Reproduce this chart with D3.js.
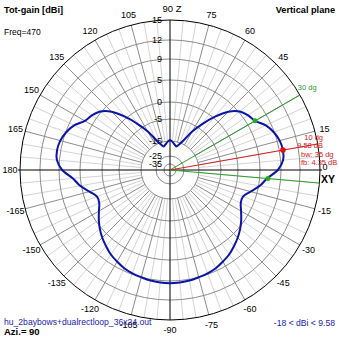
<!DOCTYPE html>
<html><head><meta charset="utf-8">
<script src="https://cdn.jsdelivr.net/npm/d3@7"></script>
<style>
body{margin:0;background:#fff}
svg{display:block}
text{font-family:"Liberation Sans",Arial,sans-serif}
</style>
</head><body>
<svg id="chart" width="339" height="339"></svg>
<script>
// Radial gain rings (dBi) and their labels
const ringLevels = [15, 12, 9, 5, 0, -5, -15, -25, -35];
// Elevation angle labels, every 15 degrees
const angleTicks = [0, 15, 30, 45, 60, 75, 90, 105, 120, 135, 150, 165, 180,
  -165, -150, -135, -120, -105, -90, -75, -60, -45, -30, -15];
// Elevation angles (deg, counter-clockwise from the horizon) and total gain (dBi)
const elevation = [0,5,10,15,20,25,30,35,40,45,50,55,60,65,70,75,80,85,
  90,95,100,105,110,115,120,125,130,135,140,145,150,155,160,165,170,175,
  180,185,190,195,200,205,210,215,220,225,230,235,240,245,250,255,260,265,
  270,275,280,285,290,295,300,305,310,315,320,325,330,335,340,345,350,355];
const gain = [8.4,9.4,9.58,9.4,8.9,8.0,6.58,6.0,5.2,3.3,0.3,-3.5,-8,-13,-16,-18,-17,-15.5,
  -14.5,-15.5,-17,-18,-16,-13,-8,-3.5,0.3,3.3,5.2,6.0,6.58,8.0,8.9,9.4,9.58,9.4,
  8.4,6.4,5.23,3.5,2.2,2.3,3.2,4.3,5.3,6.1,6.8,7.5,8.0,8.5,8.8,9.0,9.2,9.3,
  9.35,9.3,9.2,9.0,8.8,8.5,8.0,7.5,6.8,6.1,5.3,4.3,3.2,2.3,2.2,3.5,5.23,6.4];
// Lobe summary
const maxDir = 10, maxGain = 9.58, beamEdges = [30, -5], beamWidth = 35, frontBack = 4.35, minGain = -18;

const cx = 170, cy = 170, R = 150;
const svg = d3.select("#chart");

// compressed (log-like) radial gain axis
const r = d3.scaleLinear()
  .domain(ringLevels)
  .range([1, 0.867, 0.74, 0.6, 0.453, 0.34, 0.193, 0.093, 0.04].map(f => f * R))
  .clamp(true);
const rad = d => d * Math.PI / 180;
const px = (deg, rr) => cx + rr * Math.cos(rad(deg));
const py = (deg, rr) => cy - rr * Math.sin(rad(deg));

const g = svg.append("g");

// spokes every 5 degrees, darker every 15
const spokes = d3.range(0, 360, 5).filter(a => a % 90 !== 0);
g.selectAll("line.spoke").data(spokes).join("line")
  .attr("x1", a => px(a, r(-15))).attr("y1", a => py(a, r(-15)))
  .attr("x2", a => px(a, R)).attr("y2", a => py(a, R))
  .attr("stroke", a => a % 15 === 0 ? "#8c8c8c" : "#d4d4d4")
  .attr("stroke-width", 1);

// gain rings
g.selectAll("circle.ring").data(ringLevels.slice(1)).join("circle")
  .attr("cx", cx).attr("cy", cy).attr("r", d => r(d))
  .attr("fill", "none").attr("stroke", "#8c8c8c").attr("stroke-width", 1);
g.append("circle").attr("cx", cx).attr("cy", cy).attr("r", R)
  .attr("fill", "none").attr("stroke", "#000").attr("stroke-width", 1);

// axes
g.append("line").attr("x1", cx - R - 2).attr("x2", cx + R + 2).attr("y1", cy).attr("y2", cy)
  .attr("stroke", "#000");
g.append("line").attr("x1", cx).attr("x2", cx).attr("y1", cy - R).attr("y2", cy + R)
  .attr("stroke", "#000");

// ring labels
g.selectAll("text.rl").data(ringLevels).join("text")
  .attr("x", cx - 8).attr("y", d => cy - r(d))
  .attr("text-anchor", "end").attr("dominant-baseline", "central")
  .attr("font-size", 9).attr("fill", "#000")
  .text(d => d);

// angle labels
g.selectAll("text.al").data(angleTicks.filter(a => a !== 0 && a !== 90 && a !== 30)).join("text")
  .attr("x", a => px(a, R + 10)).attr("y", a => py(a, R + 10))
  .attr("text-anchor", "middle").attr("dominant-baseline", "central")
  .attr("font-size", 9).attr("fill", "#000")
  .text(a => a);
g.append("text").attr("x", px(90, R + 12) + 2).attr("y", py(90, R + 12))
  .attr("text-anchor", "middle").attr("dominant-baseline", "central")
  .attr("font-size", 9.5).text("90 Z");
g.append("text").attr("x", px(0, R + 5)).attr("y", cy - 3)
  .attr("text-anchor", "middle").attr("dominant-baseline", "central")
  .attr("font-size", 9).text("0");
g.append("text").attr("x", px(0, R + 8)).attr("y", cy + 9)
  .attr("text-anchor", "middle").attr("dominant-baseline", "central")
  .attr("font-size", 10.5).attr("font-weight", "bold").text("XY");

// beam-width and max direction lines
beamEdges.forEach(a => {
  g.append("line").attr("x1", cx).attr("y1", cy).attr("x2", px(a, R)).attr("y2", py(a, R))
    .attr("stroke", "#2ca02c").attr("stroke-width", 1);
});
g.append("line").attr("x1", cx).attr("y1", cy).attr("x2", px(maxDir, R)).attr("y2", py(maxDir, R))
  .attr("stroke", "#d42020").attr("stroke-width", 1);

// pattern
const line = d3.lineRadial()
  .angle((d, i) => Math.PI / 2 - rad(elevation[i]))
  .radius(d => r(d))
  .curve(d3.curveCatmullRomClosed);
g.append("path").datum(gain)
  .attr("transform", `translate(${cx},${cy})`)
  .attr("d", line)
  .attr("fill", "none").attr("stroke", "#0a14a8").attr("stroke-width", 2);

// markers
beamEdges.forEach(a => {
  g.append("circle").attr("cx", px(a, r(maxGain - 3))).attr("cy", py(a, r(maxGain - 3)))
    .attr("r", 2.5).attr("fill", "#22aa22");
});
g.append("circle").attr("cx", px(maxDir, r(maxGain))).attr("cy", py(maxDir, r(maxGain)))
  .attr("r", 2.8).attr("fill", "#e01010");

// annotation texts
g.append("text").attr("x", px(30, R + 8) - 9).attr("y", py(30, R + 8) - 1)
  .attr("font-size", 7.5).attr("fill", "#2ca02c").text(beamEdges[0] + " dg");
const red = "#d42020";
g.append("text").attr("x", 323).attr("y", 137).attr("text-anchor", "end")
  .attr("dominant-baseline", "central").attr("font-size", 7.5).attr("fill", red).text(maxDir + " dg");
g.append("text").attr("x", 323).attr("y", 145.5).attr("text-anchor", "end")
  .attr("dominant-baseline", "central").attr("font-size", 7.5).attr("fill", red).text(maxGain + " dB");
g.append("text").attr("x", 301).attr("y", 154).attr("dominant-baseline", "central")
  .attr("font-size", 7.5).attr("fill", red).text("bw: " + beamWidth + " dg");
g.append("text").attr("x", 301).attr("y", 162.5).attr("dominant-baseline", "central")
  .attr("font-size", 7.5).attr("fill", red).text("fb: " + frontBack + " dB");

// titles
svg.append("text").attr("x", 4).attr("y", 13).attr("font-size", 9.2).attr("font-weight", "bold")
  .text("Tot-gain [dBi]");
svg.append("text").attr("x", 335).attr("y", 13).attr("text-anchor", "end")
  .attr("font-size", 9.2).attr("font-weight", "bold").text("Vertical plane");
svg.append("text").attr("x", 4).attr("y", 35).attr("font-size", 8.5).text("Freq=470");
svg.append("text").attr("x", 4).attr("y", 325).attr("font-size", 8.6).attr("fill", "#1a1ab4")
  .text("hu_2baybows+dualrectloop_36x24.out");
svg.append("text").attr("x", 4).attr("y", 335).attr("font-size", 9.5).attr("font-weight", "bold")
  .text("Azi.= 90");
svg.append("text").attr("x", 335).attr("y", 326).attr("text-anchor", "end")
  .attr("font-size", 8.6).attr("fill", "#1a1ab4")
  .text(minGain + " < dBi < " + maxGain);
</script>
</body></html>
